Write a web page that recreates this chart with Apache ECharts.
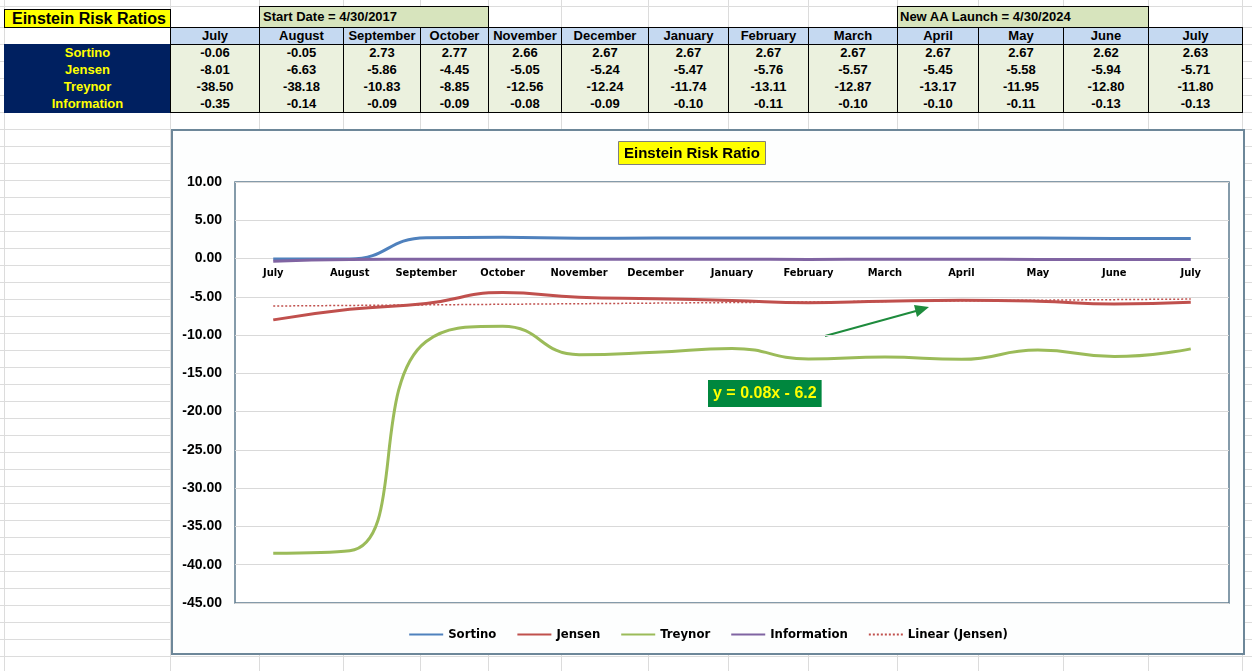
<!DOCTYPE html>
<html lang="en">
<head>
<meta charset="UTF-8">
<title>Einstein Risk Ratios</title>
<script src="https://cdn.jsdelivr.net/npm/echarts@6/dist/echarts.min.js"></script>
<style>
    body { margin: 0; background: #fff; font-family: "Liberation Sans", Arial, sans-serif; }
    #sheet { position: relative; width: 1252px; height: 671px; overflow: hidden; }
    .gl { position: absolute; background: #dcdcdc; }
    .cell { position: absolute; box-sizing: border-box; font-weight: bold; font-size: 13px;
            line-height: 16px; text-align: center; white-space: nowrap; }
    #chart { position: absolute; left: 171px; top: 129px; width: 1070px; height: 522px;
             border: 2px solid #6d8799; background: #fdfefe; }
</style>
</head>
<body>
<div id="sheet">
    <div id="chart"></div>
</div>

<script>
    // table / chart data
    var months = ['July', 'August', 'September', 'October', 'November', 'December', 'January',
                  'February', 'March', 'April', 'May', 'June', 'July'];
    var sortino = [-0.06, -0.05, 2.73, 2.77, 2.66, 2.67, 2.67, 2.67, 2.67, 2.67, 2.67, 2.62, 2.63];
    var jensen = [-8.01, -6.63, -5.86, -4.45, -5.05, -5.24, -5.47, -5.76, -5.57, -5.45, -5.58, -5.94, -5.71];
    var treynor = [-38.50, -38.18, -10.83, -8.85, -12.56, -12.24, -11.74, -13.11, -12.87, -13.17, -11.95, -12.80, -11.80];
    var information = [-0.35, -0.14, -0.09, -0.09, -0.08, -0.09, -0.10, -0.11, -0.10, -0.10, -0.11, -0.13, -0.13];
    var rowNames = ['Sortino', 'Jensen', 'Treynor', 'Information'];
    var yTicks = [10, 5, 0, -5, -10, -15, -20, -25, -30, -35, -40, -45];

    // spreadsheet layout
    var colEdges = [170, 259, 343, 420, 488, 561, 648, 728, 808, 897, 978, 1063, 1148, 1242];
    var sheet = document.getElementById('sheet');
    var chartDiv = document.getElementById('chart');

    function addDiv(cls, css, text) {
        var d = document.createElement('div');
        d.className = cls;
        d.style.cssText = css;
        if (text !== undefined) d.textContent = text;
        sheet.insertBefore(d, chartDiv);
        return d;
    }

    // grid lines of the sheet
    var y;
    addDiv('gl', 'left:0;top:6px;width:1252px;height:1px;');
    addDiv('gl', 'left:0;top:27px;width:1252px;height:1px;');
    for (y = 44; y < 671; y += 17) {
        addDiv('gl', 'left:0;top:' + y + 'px;width:1252px;height:1px;');
    }
    addDiv('gl', 'left:4px;top:0;width:1px;height:671px;');
    colEdges.forEach(function (x) {
        addDiv('gl', 'left:' + x + 'px;top:0;width:1px;height:671px;');
    });

    // title cells
    addDiv('cell', 'left:4px;top:9px;width:167px;height:19px;background:#ffff00;border:1px solid #000;' +
        'font-size:16px;line-height:17px;text-align:left;padding-left:7px;', 'Einstein Risk Ratios');
    addDiv('cell', 'left:259px;top:6px;width:230px;height:22px;background:#d7e4bd;border:1px solid #000;' +
        'font-size:13px;line-height:20px;text-align:left;padding-left:3px;', 'Start Date = 4/30/2017');
    addDiv('cell', 'left:897px;top:6px;width:252px;height:22px;background:#d7e4bd;border:1px solid #000;' +
        'font-size:13px;line-height:20px;text-align:left;padding-left:2px;', 'New AA Launch = 4/30/2024');

    // header row
    months.forEach(function (m, i) {
        var x0 = colEdges[i], w = colEdges[i + 1] - x0 + 1;
        addDiv('cell', 'left:' + x0 + 'px;top:27px;width:' + w + 'px;height:18px;background:#c5d9f1;' +
            'border:1px solid #000;', m);
    });

    // label column
    addDiv('cell', 'left:4px;top:44px;width:167px;height:69px;background:#002060;');
    rowNames.forEach(function (n, r) {
        addDiv('cell', 'left:4px;top:' + (45 + r * 17) + 'px;width:167px;height:17px;color:#ffff00;', n);
    });

    // value cells
    var rows = [sortino, jensen, treynor, information];
    months.forEach(function (m, i) {
        var x0 = colEdges[i], w = colEdges[i + 1] - x0 + 1;
        addDiv('cell', 'left:' + x0 + 'px;top:44px;width:' + w + 'px;height:69px;background:#ebf1de;' +
            'border:1px solid #000;');
        rows.forEach(function (arr, r) {
            addDiv('cell', 'left:' + x0 + 'px;top:' + (45 + r * 17) + 'px;width:' + w + 'px;height:17px;',
                arr[i].toFixed(2));
        });
    });

    // linear trend of Jensen (least squares, x = 1..n like Excel)
    var n = jensen.length, sx = 0, sy = 0, sxy = 0, sxx = 0;
    jensen.forEach(function (v, i) {
        var x = i + 1;
        sx += x; sy += v; sxy += x * v; sxx += x * x;
    });
    var slope = (n * sxy - sx * sy) / (n * sxx - sx * sx);
    var intercept = (sy - slope * sx) / n;
    var jensenTrend = jensen.map(function (v, i) { return slope * (i + 1) + intercept; });

    var narrow = '"Liberation Sans Narrow", "DejaVu Sans Condensed", sans-serif';
    var myChart = echarts.init(chartDiv);

    // plot box inside the chart div
    var gridTop = 51, gridBottom = 50;
    var yMin = yTicks[yTicks.length - 1], yMax = yTicks[0];
    var plotHeight = 522 - gridTop - gridBottom;
    // move the category axis up to the zero line (like Excel's axis crossing)
    var zeroOffset = -plotHeight * (0 - yMin) / (yMax - yMin);

    var option = {
        animation: false,
        title: {
            text: 'Einstein Risk Ratio',
            left: 445,
            top: 10,
            padding: [5, 6, 4, 6],
            backgroundColor: '#ffff00',
            borderColor: '#7f7f7f',
            borderWidth: 1,
            textStyle: {
                fontFamily: '"Liberation Sans", Arial, sans-serif',
                fontSize: 15,
                fontWeight: 'bold',
                color: '#000'
            }
        },
        grid: {
            left: 62,
            right: 14,
            top: gridTop,
            bottom: gridBottom,
            show: true,
            backgroundColor: '#fff',
            borderColor: '#5e7b8e',
            borderWidth: 1.5
        },
        legend: {
            top: 492,
            left: 'center',
            itemWidth: 34,
            itemHeight: 14,
            itemGap: 20,
            itemStyle: { opacity: 0 },
            textStyle: {
                fontFamily: narrow,
                fontSize: 13,
                fontWeight: 'bold',
                color: '#000'
            },
            data: ['Sortino', 'Jensen', 'Treynor', 'Information', 'Linear (Jensen)']
        },
        xAxis: {
            type: 'category',
            data: months,
            boundaryGap: true,
            position: 'bottom',
            offset: zeroOffset,
            axisLine: { show: false, onZero: false },
            axisTick: { show: false },
            axisLabel: {
                interval: 0,
                margin: 9,
                fontFamily: narrow,
                fontSize: 11,
                fontWeight: 'bold',
                color: '#000'
            }
        },
        yAxis: {
            type: 'value',
            min: yMin,
            max: yMax,
            interval: 5,
            axisLine: { show: false },
            axisTick: { show: false },
            splitLine: { lineStyle: { color: '#d9d9d9', width: 1 } },
            axisLabel: {
                margin: 13,
                fontFamily: '"Liberation Sans", Arial, sans-serif',
                fontSize: 14,
                fontWeight: 'bold',
                color: '#000',
                formatter: function (v) { return v.toFixed(2); }
            }
        },
        series: [
            {
                name: 'Sortino', type: 'line', data: sortino, smooth: 0.5, symbol: 'none',
                lineStyle: { width: 3, color: '#4f81bd' }, itemStyle: { color: '#4f81bd' }
            },
            {
                name: 'Jensen', type: 'line', data: jensen, smooth: 0.5, symbol: 'none',
                lineStyle: { width: 3, color: '#c0504d' }, itemStyle: { color: '#c0504d' }
            },
            {
                name: 'Treynor', type: 'line', data: treynor, smooth: 0.5, symbol: 'none',
                lineStyle: { width: 3, color: '#9bbb59' }, itemStyle: { color: '#9bbb59' }
            },
            {
                name: 'Information', type: 'line', data: information, smooth: 0.5, symbol: 'none',
                lineStyle: { width: 3, color: '#8064a2' }, itemStyle: { color: '#8064a2' }
            },
            {
                name: 'Linear (Jensen)', type: 'line', data: jensenTrend, symbol: 'none',
                lineStyle: { width: 1.5, color: '#c0504d', type: [2, 2] }, itemStyle: { color: '#c0504d' }
            }
        ],
        graphic: [
            {
                type: 'text',
                left: 535,
                top: 249,
                style: {
                    text: 'y = 0.08x - 6.2',
                    fill: '#ffff00',
                    font: 'bold 16px "Liberation Sans", Arial, sans-serif',
                    backgroundColor: '#00873e',
                    padding: [6, 5, 5, 5]
                }
            },
            {
                type: 'line',
                shape: { x1: 652, y1: 205, x2: 743, y2: 180 },
                style: { stroke: '#1e8b3d', lineWidth: 2 }
            },
            {
                type: 'polygon',
                shape: { points: [[756, 176], [744, 186], [741, 174]] },
                style: { fill: '#1e8b3d' }
            }
        ]
    };

    myChart.setOption(option);
</script>
</body>
</html>
